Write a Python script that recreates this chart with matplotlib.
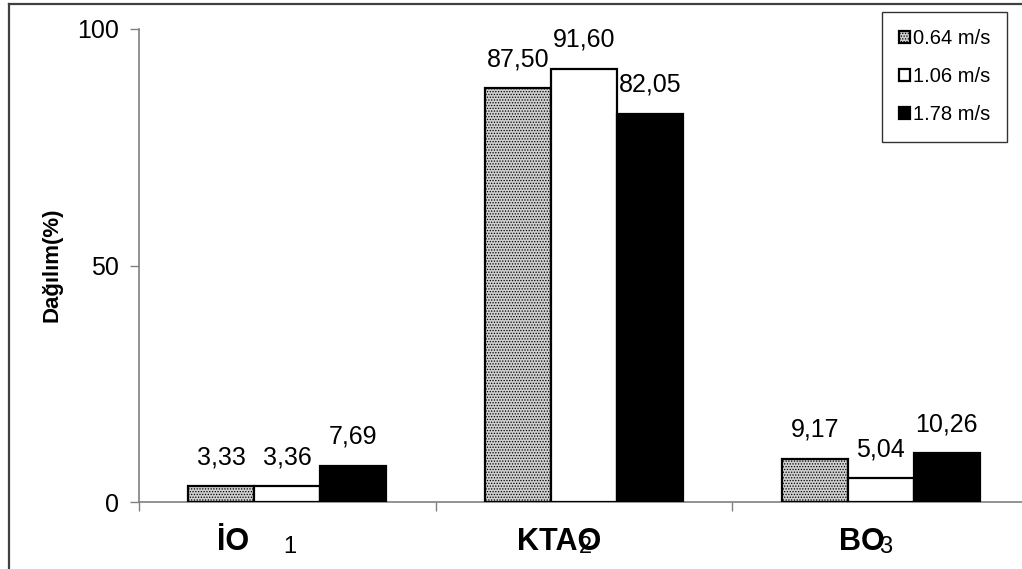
import matplotlib
matplotlib.use("Agg")
import matplotlib.pyplot as plt
from matplotlib.lines import Line2D
import numpy as np

plt.rcParams['font.family'] = ['Liberation Sans', 'DejaVu Sans']
plt.rcParams['hatch.linewidth'] = 0.6

# data
cat_main = ["İO", "KTAO", "BO"]
cat_sub = ["1", "2", "3"]
series = ["0.64 m/s", "1.06 m/s", "1.78 m/s"]
v064 = [3.33, 87.50, 9.17]
v106 = [3.36, 91.60, 5.04]
v178 = [7.69, 82.05, 10.26]
ylabel = "Dağılım(%)"

W, H = 1022, 569
fig = plt.figure(figsize=(W / 100, H / 100), dpi=100)
ax = fig.add_axes([139 / W, (H - 502) / H, 890 / W, 473 / H])

values = [v064, v106, v178]
faces = ['#cfcfcf', 'white', 'black']
hatches = ['......', None, None]
bw = 0.2226
x = np.arange(len(cat_main)) + 0.5
for j, (vals, fc, h) in enumerate(zip(values, faces, hatches)):
    pos = x + (j - 1) * bw
    ax.bar(pos, vals, width=bw, color=fc, edgecolor='black', linewidth=1.6,
           hatch=h, label=series[j], zorder=3)
    for xp, v in zip(pos, vals):
        ax.annotate(f"{v:.2f}".replace('.', ','), xy=(xp, v), xytext=(0, 22),
                    textcoords='offset pixels', ha='center', va='baseline',
                    fontsize=18, zorder=4)

ax.set_xlim(0, 3)
ax.set_ylim(0, 100)
ax.set_yticks([0, 50, 100])
ax.set_xticks([0, 1, 2, 3])
ax.set_xticklabels([])
ax.tick_params(axis='y', direction='out', length=6.5, width=1, color='#808080',
               labelsize=18, pad=8)
ax.tick_params(axis='x', direction='out', length=6.5, width=1, color='#808080')
for s in ['top', 'right']:
    ax.spines[s].set_visible(False)
for s in ['left', 'bottom']:
    ax.spines[s].set_color('#808080')
    ax.spines[s].set_linewidth(1.2)
ax.patch.set_visible(False)

# category labels: bold name with a separate index digit
main_off = [-70, -67, -42]
sub_off = [-4, -5, -2]
for i in range(len(cat_main)):
    ax.annotate(cat_main[i], xy=(x[i], 0), xycoords=('data', 'data'),
                xytext=(main_off[i], -48), textcoords='offset pixels',
                ha='left', va='baseline', fontsize=22, fontweight='bold',
                annotation_clip=False)
    ax.annotate(cat_sub[i], xy=(x[i], 0), xycoords=('data', 'data'),
                xytext=(sub_off[i], -51), textcoords='offset pixels',
                ha='left', va='baseline', fontsize=17, annotation_clip=False)

fig.text(52 / W, 1 - 265 / H, ylabel, rotation=90, ha='center', va='center',
         fontsize=16, fontweight='bold')

leg = ax.legend(loc='upper right', bbox_to_anchor=(1007 / W, 1 - 12 / H),
                bbox_transform=fig.transFigure, fontsize=14.5,
                handlelength=0.55, handleheight=0.55, handletextpad=0.12,
                labelspacing=0.95, borderpad=0.85, borderaxespad=0,
                fancybox=False, frameon=True)
leg.get_frame().set_edgecolor('black')
leg.get_frame().set_linewidth(1.0)

# outer frame lines
fig.add_artist(Line2D([9 / W, 9 / W], [0, 1 - 4 / H], transform=fig.transFigure,
                      color='#404040', lw=1.6))
fig.add_artist(Line2D([9 / W, 1], [1 - 4 / H, 1 - 4 / H], transform=fig.transFigure,
                      color='#404040', lw=1.6))

fig.savefig("out.png", dpi=100)
